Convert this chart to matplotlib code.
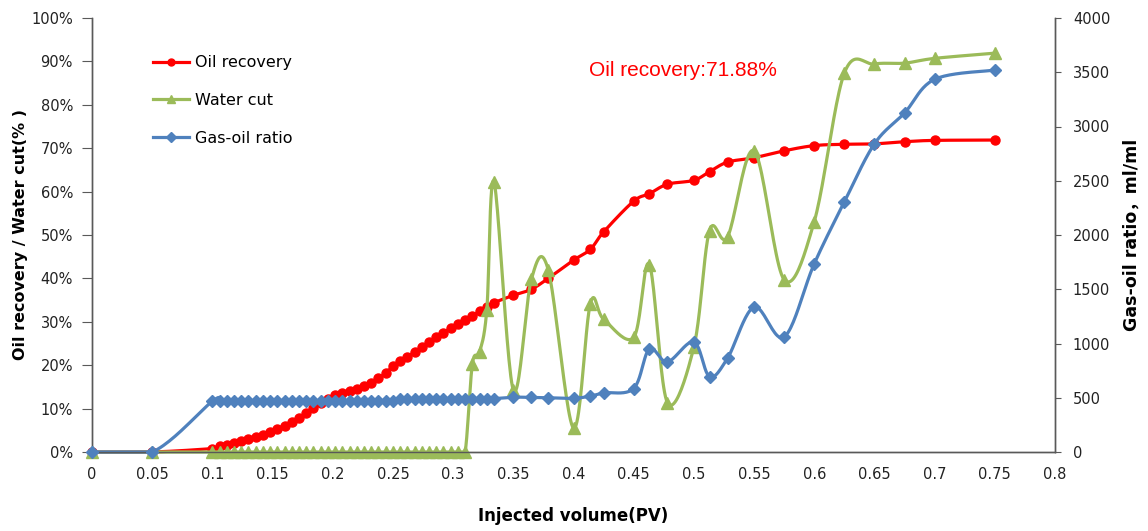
import numpy as np
import matplotlib
matplotlib.use("Agg")
import matplotlib.pyplot as plt
from matplotlib.lines import Line2D

plt.rcParams['font.family'] = ['DejaVu Sans', 'Noto Sans CJK SC']

# ---------------- data ----------------
pv = [0.0, 0.05,
      0.100, 0.106, 0.112, 0.118, 0.124, 0.130, 0.136, 0.142, 0.148, 0.154,
      0.160, 0.166, 0.172, 0.178, 0.184, 0.190, 0.196, 0.202, 0.208, 0.214,
      0.220, 0.226, 0.232, 0.238, 0.244, 0.250, 0.256, 0.262, 0.268, 0.274,
      0.280, 0.286, 0.292, 0.298, 0.304, 0.310, 0.316, 0.322, 0.328, 0.334,
      0.350, 0.365, 0.379, 0.400, 0.414, 0.425, 0.450, 0.463, 0.478, 0.500,
      0.513, 0.528, 0.550, 0.575, 0.600, 0.625, 0.650, 0.675, 0.700, 0.750]

oil_recovery = [0.0, 0.0,
                0.8, 1.3, 1.7, 2.1, 2.5, 2.9, 3.4, 4.0, 4.6, 5.3,
                6.1, 7.0, 7.9, 9.0, 10.1, 11.2, 12.3, 13.2, 13.7, 14.1,
                14.6, 15.2, 16.0, 17.0, 18.2, 19.8, 21.0, 22.0, 23.0, 24.2,
                25.3, 26.4, 27.5, 28.6, 29.6, 30.5, 31.4, 32.4, 33.4, 34.4,
                36.1, 37.5, 40.0, 44.2, 46.7, 50.7, 57.8, 59.5, 61.7, 62.6,
                64.6, 66.8, 67.8, 69.4, 70.6, 70.9, 71.0, 71.5, 71.8, 71.88]

water_cut = [0.0, 0.0,
             0, 0, 0, 0, 0, 0, 0, 0, 0, 0,
             0, 0, 0, 0, 0, 0, 0, 0, 0, 0,
             0, 0, 0, 0, 0, 0, 0, 0, 0, 0,
             0, 0, 0, 0, 0, 0, 20.3, 23.0, 32.8, 62.2,
             14.3, 39.8, 42.0, 5.5, 34.2, 30.6, 26.4, 43.2, 11.4, 24.2,
             51.0, 49.6, 69.4, 39.7, 53.1, 87.3, 89.4, 89.6, 90.7, 91.9]

gas_oil_ratio = [0, 0,
                 468, 468, 468, 468, 468, 468, 468, 468, 468, 468,
                 468, 468, 468, 468, 468, 468, 468, 468, 468, 468,
                 470, 470, 470, 470, 470, 472, 484, 486, 486, 486,
                 488, 488, 488, 488, 490, 490, 490, 490, 492, 492,
                 505, 503, 500, 495, 515, 545, 585, 950, 830, 1015,
                 695, 865, 1335, 1060, 1735, 2305, 2840, 3125, 3435, 3520]

left_ticks = [0, 10, 20, 30, 40, 50, 60, 70, 80, 90, 100]
right_ticks = [0, 500, 1000, 1500, 2000, 2500, 3000, 3500, 4000]
x_ticks = [0, 0.05, 0.1, 0.15, 0.2, 0.25, 0.3, 0.35, 0.4, 0.45, 0.5, 0.55,
           0.6, 0.65, 0.7, 0.75, 0.8]
x_ticklabels = ['0', '0.05', '0.1', '0.15', '0.2', '0.25', '0.3', '0.35', '0.4',
                '0.45', '0.5', '0.55', '0.6', '0.65', '0.7', '0.75', '0.8']

RED = '#FF0000'
GREEN = '#9BBB59'
BLUE = '#4F81BD'


def smooth(x, y, n=24):
    """Excel-like smoothed line (Catmull-Rom Bezier segments)."""
    x = np.asarray(x, float)
    y = np.asarray(y, float)
    P = np.column_stack([x, y])
    Pp = np.vstack([P[0], P, P[-1]])
    out = []
    t = np.linspace(0, 1, n)[:, None]
    for i in range(len(P) - 1):
        p0, p1, p2, p3 = Pp[i], Pp[i + 1], Pp[i + 2], Pp[i + 3]
        b1 = p1 + (p2 - p0) / 6.0
        b2 = p2 - (p3 - p1) / 6.0
        seg = ((1 - t) ** 3) * p1 + 3 * ((1 - t) ** 2) * t * b1 + \
            3 * (1 - t) * t ** 2 * b2 + t ** 3 * p2
        out.append(seg if i == 0 else seg[1:])
    s = np.vstack(out)
    return s[:, 0], np.maximum(s[:, 1], 0.0)


fig = plt.figure(figsize=(11.48, 5.31), dpi=100)
ax = fig.add_axes([92 / 1148, 1 - 452 / 531, (1055 - 92) / 1148, (452 - 18) / 531])
ax2 = ax.twinx()

lw = 2.3
sx, sy = smooth(pv, oil_recovery)
ax.plot(sx, sy, color=RED, lw=lw, zorder=2, clip_on=False)
ax.plot(pv, oil_recovery, ls='none', marker='o', ms=6.5, color=RED, zorder=3, clip_on=False)

sx, sy = smooth(pv, water_cut)
ax.plot(sx, sy, color=GREEN, lw=lw, zorder=4, clip_on=False)
ax.plot(pv, water_cut, ls='none', marker='^', ms=8, color=GREEN, zorder=5, clip_on=False)

sx, sy = smooth(pv, gas_oil_ratio)
ax2.plot(sx, sy, color=BLUE, lw=lw, zorder=2, clip_on=False)
ax2.plot(pv, gas_oil_ratio, ls='none', marker='D', ms=6.5, color=BLUE, zorder=3, clip_on=False)

ax.set_xlim(0, 0.8)
ax.set_ylim(0, 100)
ax2.set_ylim(0, 4000)

ax.set_xticks(x_ticks)
ax.set_xticklabels(x_ticklabels)
ax.set_yticks(left_ticks)
ax.set_yticklabels([f'{v}%' for v in left_ticks])
ax2.set_yticks(right_ticks)
ax2.set_yticklabels([str(v) for v in right_ticks])

spine_c = '#595959'
for a in (ax, ax2):
    a.spines['top'].set_visible(False)
    for s in ('left', 'right', 'bottom'):
        a.spines[s].set_color(spine_c)
        a.spines[s].set_linewidth(1.0)
ax.tick_params(axis='x', length=0, pad=11, labelsize=10.5, colors='#222222')
ax.tick_params(axis='y', length=7, direction='out', pad=6.7, labelsize=10.5,
               color=spine_c, labelcolor='#222222')
ax2.tick_params(axis='y', length=4.3, direction='out', pad=8.6, labelsize=10.5,
                color=spine_c, labelcolor='#222222')

ax.set_xlabel('Injected volume(PV)', fontsize=12, fontweight='bold', labelpad=18)
ax.set_ylabel('Oil recovery / Water cut(% )', fontsize=11.5, fontweight='bold', labelpad=2.5)
ax2.set_ylabel('Gas-oil ratio，ml/ml', fontsize=12.5, fontweight='bold', labelpad=8.8)

ax.text(0.6137, 0.880, 'Oil recovery:71.88%', color=RED, fontsize=15,
        family=['Liberation Sans', 'DejaVu Sans'],
        transform=ax.transAxes, ha='center', va='center')

handles = [
    Line2D([], [], color=RED, lw=lw, marker='o', ms=5),
    Line2D([], [], color=GREEN, lw=lw, marker='^', ms=6),
    Line2D([], [], color=BLUE, lw=lw, marker='D', ms=5),
]
leg = ax2.legend(handles, ['Oil recovery', 'Water cut', 'Gas-oil ratio'],
                 loc='upper left', bbox_to_anchor=(0.048, 0.947), frameon=False,
                 fontsize=11.5, handlelength=2.3, labelspacing=1.42, handletextpad=0.35)

fig.savefig('out.png', dpi=100)
